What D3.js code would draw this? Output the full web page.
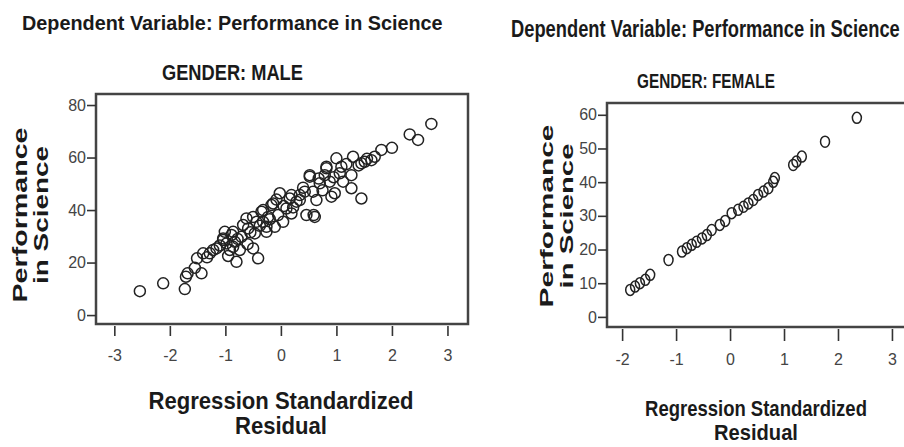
<!DOCTYPE html>
<html>
<head>
<meta charset="utf-8">
<script src="https://cdn.jsdelivr.net/npm/d3@7"></script>
<style>
  body { margin: 0; background: #fff; }
  svg { display: block; }
</style>
</head>
<body>
<div id="chart"></div>
<script>
const width = 904;
const height = 447;

// male: regression standardized residual vs performance in science
const maleResid = [
  -2.54, -2.12, -1.73, -1.71, -1.68, -1.55, -1.43, -1.51, -1.40, -1.28,
  -1.16, -1.04, -1.01, -0.86, -0.98, -0.92, -0.83, -0.80, -0.74, -0.68,
  -0.71, -0.62, -0.59, -0.50, -0.41, -0.47, -0.44, -0.35, -0.32, -0.26,
  -0.23, -0.14, -0.11, -0.05, -0.02, 0.04, 0.10, 0.16, 0.19, 0.28,
  0.34, 0.46, 0.59, 0.43, 0.52, 0.58, 0.64, 0.70, 0.79, 0.82,
  0.91, 0.97, 0.88, 1.00, 1.06, 1.12, 1.09, 1.27, 1.27, 1.30,
  1.45, 1.45, 1.51, 1.63, 1.69, 1.81, 2.00, 2.32, 2.47, 2.71,
  -1.22, -1.04, -0.89, -0.86, -0.50, -0.17, -0.32, -0.26, 0.19, 0.34,
  0.82, 0.52, 0.61, -1.33, -1.10, -0.95, -0.78, -0.60, -0.38, -0.20,
  0.05, 0.22, 0.40, 0.68, 0.75, 1.18, 1.40, -0.55, -0.08, 0.95, 1.55
];
const maleScience = [
  9.1, 12.1, 9.9, 14.6, 15.9, 18.0, 15.9, 21.6, 23.5, 23.5,
  25.4, 29.2, 31.7, 31.7, 27.3, 24.8, 27.9, 20.3, 24.8, 34.3,
  29.8, 36.8, 33.0, 25.4, 21.6, 31.1, 35.5, 39.4, 35.5, 31.7,
  37.4, 42.5, 33.6, 38.1, 46.4, 35.5, 40.6, 44.4, 38.7, 43.2,
  45.7, 38.1, 38.1, 47.0, 52.7, 47.0, 43.8, 50.2, 53.3, 55.9,
  45.1, 46.4, 50.8, 59.7, 54.0, 50.8, 56.5, 53.3, 48.3, 60.3,
  44.4, 57.8, 58.4, 59.0, 60.3, 62.9, 63.7, 68.8, 66.7, 72.8,
  24.8, 28.6, 30.5, 26.0, 37.4, 41.9, 40.0, 33.6, 45.7, 43.8,
  56.5, 53.3, 37.4, 22.0, 26.5, 22.5, 29.0, 27.0, 34.0, 36.5,
  41.5, 41.0, 48.5, 52.0, 47.5, 57.5, 57.0, 31.5, 44.0, 52.5, 59.5
];

// female
const femaleResid = [
  -1.85, -1.76, -1.67, -1.57, -1.48, -1.14, -0.89, -0.80, -0.71, -0.62,
  -0.52, -0.43, -0.34, -0.19, -0.09, 0.03, 0.15, 0.25, 0.34, 0.43,
  0.52, 0.62, 0.71, 0.80, 0.83, 1.17, 1.23, 1.33, 1.76, 2.35
];
const femaleScience = [
  8.0, 9.0, 10.0, 11.0, 12.5, 16.9, 19.4, 20.4, 21.4, 22.3,
  23.3, 24.3, 25.8, 27.3, 28.5, 30.8, 31.8, 32.7, 33.7, 34.7,
  36.2, 37.2, 38.2, 40.1, 41.2, 45.1, 46.1, 47.6, 52.0, 59.1
];

const maleXTicks = [-3, -2, -1, 0, 1, 2, 3];
const maleYTicks = [0, 20, 40, 60, 80];
const femaleXTicks = [-2, -1, 0, 1, 2, 3];
const femaleYTicks = [0, 10, 20, 30, 40, 50, 60];

const titleText = "Dependent Variable: Performance in Science";
const yTitle = ["Performance", "in Science"];
const xTitle = ["Regression Standardized", "Residual"];

const narrow = "'Liberation Sans Narrow', 'Arial Narrow', 'Liberation Sans', sans-serif";
const wide = "'Liberation Sans', Arial, sans-serif";

const svg = d3
  .select("#chart")
  .append("svg")
  .attr("width", width)
  .attr("height", height)
  .attr("viewBox", `0 0 ${width} ${height}`)
  .style("background", "#fff");

const panels = [
  {
    gender: "GENDER: MALE",
    xs: maleResid, ys: maleScience,
    xTicks: maleXTicks, yTicks: maleYTicks,
    xDomain: [-3.33, 3.37], yDomain: [-3.4, 84.2],
    left: 96, right: 468, top: 94, bottom: 324,
    title: { x: 22, y: 30, len: 421, size: 21 },
    sub: { x: 162, y: 80, len: 141, size: 22 },
    yt: { x: [27, 48], y: 215, len: [175, 138], size: 20 },
    xt: { x: 281, y: [409, 434], len: [265, 92], size: 23 },
    xTickSize: 10, xPad: 14, yTickSize: 9,
    rx: 5.5, ry: 5.5,
  },
  {
    gender: "GENDER: FEMALE",
    xs: femaleResid, ys: femaleScience,
    xTicks: femaleXTicks, yTicks: femaleYTicks,
    xDomain: [-2.28, 3.39], yDomain: [-3.0, 63.5],
    left: 607, right: 913, top: 103, bottom: 327,
    title: { x: 511, y: 37, len: 389, size: 23 },
    sub: { x: 637, y: 88, len: 138, size: 21 },
    yt: { x: [553, 573], y: 216, len: [183, 145], size: 18 },
    xt: { x: 756, y: [416, 440], len: [222, 84], size: 22 },
    xTickSize: 12, xPad: 13, yTickSize: 9,
    rx: 4.5, ry: 5.5,
  },
];

// squeeze or stretch a text horizontally to a given width with a transform
function fitText(parent, str, x, y, len, size, family, anchor, rotate) {
  const t = parent
    .append("text")
    .attr("text-anchor", anchor)
    .style("font-family", family)
    .style("font-weight", "bold")
    .style("font-size", `${size}px`)
    .style("fill", "#1a1a1a")
    .text(str);
  const w = t.node().getComputedTextLength();
  const sx = len / w;
  t.attr("transform", `translate(${x},${y})${rotate ? " rotate(-90)" : ""} scale(${sx},1)`);
  return t;
}

panels.forEach(drawPanel);

function drawPanel(p) {
  const g = svg.append("g");

  const x = d3.scaleLinear().domain(p.xDomain).range([p.left, p.right]);
  const y = d3.scaleLinear().domain(p.yDomain).range([p.bottom, p.top]);

  // titles
  fitText(g, titleText, p.title.x, p.title.y, p.title.len, p.title.size, narrow, "start");
  fitText(g, p.gender, p.sub.x, p.sub.y, p.sub.len, p.sub.size, narrow, "start");

  // frame
  g.append("rect")
    .attr("x", x.range()[0])
    .attr("y", y.range()[1])
    .attr("width", x.range()[1] - x.range()[0])
    .attr("height", y.range()[0] - y.range()[1])
    .attr("fill", "none")
    .attr("stroke", "#444")
    .attr("stroke-width", 2.5);

  // axes
  const yAxis = g
    .append("g")
    .attr("transform", `translate(${p.left},0)`)
    .call(
      d3.axisLeft(y).tickValues(p.yTicks).tickSize(p.yTickSize).tickPadding(1)
        .tickFormat((d) => String(d))
    );

  const xAxis = g
    .append("g")
    .attr("transform", `translate(0,${p.bottom + 2})`)
    .call(
      d3.axisBottom(x).tickValues(p.xTicks).tickSize(p.xTickSize).tickPadding(p.xPad)
        .tickFormat((d) => String(d))
    );

  [xAxis, yAxis].forEach((ax) => {
    ax.select(".domain").remove();
    ax.selectAll(".tick line").attr("stroke", "#333").attr("stroke-width", 1.6);
    ax.selectAll(".tick text")
      .style("font-family", narrow)
      .style("font-size", "16px")
      .style("fill", "#444");
  });

  // points
  const pts = p.xs.map((v, i) => ({ resid: v, sci: p.ys[i] }));
  g.append("g")
    .selectAll("ellipse")
    .data(pts)
    .join("ellipse")
    .attr("cx", (d) => x(d.resid))
    .attr("cy", (d) => y(d.sci))
    .attr("rx", p.rx)
    .attr("ry", p.ry)
    .attr("fill", "none")
    .attr("stroke", "#222")
    .attr("stroke-width", 1.5);

  // y title, rotated, two lines
  yTitle.forEach((t, i) => {
    fitText(g, t, p.yt.x[i], p.yt.y, p.yt.len[i], p.yt.size, wide, "middle", true);
  });

  // x title
  xTitle.forEach((t, i) => {
    fitText(g, t, p.xt.x, p.xt.y[i], p.xt.len[i], p.xt.size, narrow, "middle");
  });
}
</script>
</body>
</html>
